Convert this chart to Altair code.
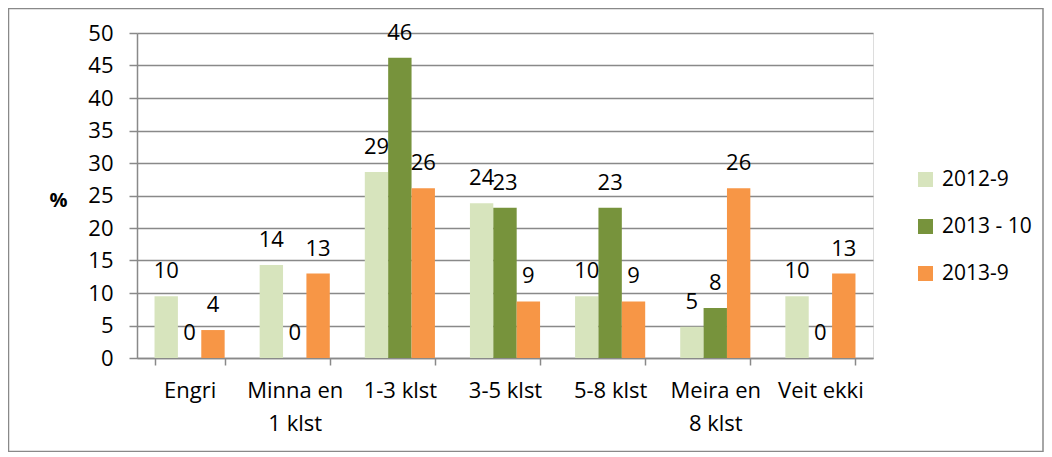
import altair as alt
import pandas as pd

categories = ["Engri", "Minna en\n1 klst", "1-3 klst", "3-5 klst", "5-8 klst", "Meira en\n8 klst", "Veit ekki"]
series_names = ["2012-9", "2013 - 10", "2013-9"]
s2012_9 = [9.5, 14.3, 28.6, 23.8, 9.5, 4.8, 9.5]
s2013_10 = [0, 0, 46.2, 23.1, 23.1, 7.7, 0]
s2013_9 = [4.3, 13.0, 26.1, 8.7, 8.7, 26.1, 13.0]
colors = ["#d7e4bd", "#77933c", "#f79646"]

rows = []
for name, vals in zip(series_names, [s2012_9, s2013_10, s2013_9]):
    for c, v in zip(categories, vals):
        rows.append({"cat": c, "series": name, "value": v})
df = pd.DataFrame(rows)

FONT = "Open Sans"
FS = 22

x = alt.X("cat:N", sort=categories, title=None,
          scale=alt.Scale(paddingInner=0.333, paddingOuter=0.1667),
          axis=alt.Axis(labelExpr="split(datum.label, '\\n')", labelAngle=0,
                        labelFontSize=FS, labelFont=FONT, labelColor="#000000",
                        labelLineHeight=33, labelPadding=15, tickBand="extent",
                        tickSize=7, tickColor="#898989", tickWidth=1.5,
                        domainColor="#898989", domainWidth=1.5, grid=False))
xo = alt.XOffset("series:N", sort=series_names, scale=alt.Scale(paddingInner=0))
y = alt.Y("value:Q", scale=alt.Scale(domain=[0, 50]), title="%",
          axis=alt.Axis(values=list(range(0, 55, 5)), labelFontSize=FS, labelFont=FONT,
                        labelColor="#000000", labelPadding=16, tickSize=8,
                        tickColor="#898989", tickWidth=1.5, domainColor="#898989",
                        domainWidth=1.5, gridColor="#898989", gridWidth=1.5,
                        titleAngle=0, titleFont=FONT, titleFontSize=20,
                        titleFontWeight="bold", titleX=-79, titleY=167,
                        titleAlign="center", titleBaseline="middle"))

bars = alt.Chart(df).mark_bar().encode(
    x=x, xOffset=xo, y=y,
    color=alt.Color("series:N", sort=series_names,
                    scale=alt.Scale(domain=series_names, range=colors),
                    legend=alt.Legend(title=None, orient="none", legendX=778, legendY=136,
                                      labelFontSize=21, labelFont=FONT, labelColor="#000000",
                                      symbolType="square", symbolSize=225, symbolStrokeWidth=0,
                                      rowPadding=25, labelOffset=6, labelLimit=200))
)

labels = alt.Chart(df).mark_text(baseline="alphabetic", dy=-18, fontSize=FS, font=FONT,
                                 color="#000000").encode(
    x=x, xOffset=xo, y=y, text=alt.Text("value:Q", format=".0f")
)

border = alt.Chart(pd.DataFrame({"a": [0]})).mark_rect(
    fillOpacity=0, stroke="#898989", strokeWidth=1.5
).encode(x=alt.value(-128.5), x2=alt.value(906), y=alt.value(-24.5), y2=alt.value(418.5))

chart = alt.layer(bars, labels, border).properties(
    width=736, height=325,
    autosize=alt.AutoSizeParams(type="none"),
    padding={"left": 129, "top": 25, "right": 171, "bottom": 94},
).configure_view(stroke=None).configure(font=FONT)

chart.save("out.html", embed_options={"renderer": "svg", "actions": False})
